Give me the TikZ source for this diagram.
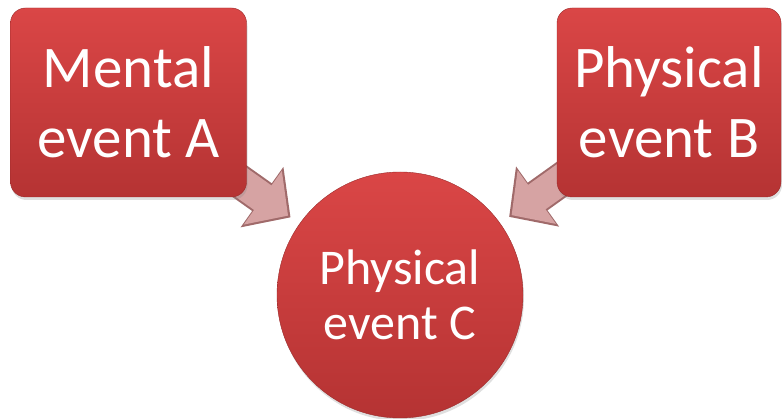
\documentclass[tikz,border=0pt]{standalone}
\usepackage{fontspec}
\setmainfont{Carlito}
\usetikzlibrary{arrows.meta,shadows,backgrounds}
\definecolor{redtop}{HTML}{DA4646}
\definecolor{redbot}{HTML}{B53333}
\definecolor{arrowpink}{HTML}{D6A3A3}
\definecolor{arrowedge}{HTML}{A06A6A}

\begin{document}
\begin{tikzpicture}[x=1pt,y=-1pt]
\tikzset{event/.style = {top color=redtop, bottom color=redbot, draw=redbot!85!black, thin,
  text=white, align=center, drop shadow={opacity=.25, shadow xshift=1pt, shadow yshift=-3pt}}}
\tikzset{box/.style = {event, rectangle, rounded corners=15pt, minimum width=236pt,
  minimum height=189pt, font=\fontsize{59}{70}\selectfont}}
\tikzset{ball/.style = {event, circle, minimum size=246pt, inner sep=0pt,
  font=\fontsize{50}{55}\selectfont}}
\tikzset{fatedge/.style = {line width=34pt, draw=arrowedge,
  -{Triangle[width=72pt,length=35pt]}, shorten >=11pt}}
\tikzset{fatarrow/.style = {line width=30pt, draw=arrowpink,
  -{Triangle[width=64pt,length=31pt]}, shorten >=14pt}}
\useasboundingbox (0,0) rectangle (782,419);

% events
\node[box] (a) at (128.5,102.5) {Mental\\event A};
\node[box, minimum width=224pt] (b) at (669,102.5) {Physical\\event B};
\node[ball] (c) at (400,295) {Physical\\event C};

% causes
\begin{scope}[on background layer]
\draw[fatedge] (a.center) -- (c);
\draw[fatarrow] (a.center) -- (c);
\draw[fatedge] (b.center) -- (c);
\draw[fatarrow] (b.center) -- (c);
\end{scope}

\end{tikzpicture}
\end{document}
